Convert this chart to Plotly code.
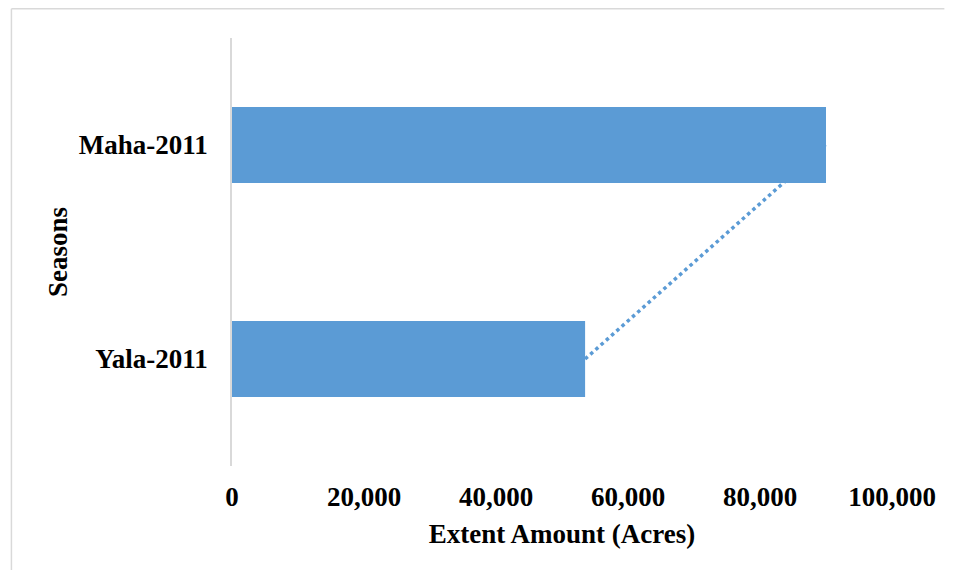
import plotly.graph_objects as go

seasons = ["Yala-2011", "Maha-2011"]
extent = [53500, 90000]
x_ticks = [0, 20000, 40000, 60000, 80000, 100000]
x_tick_labels = ["0", "20,000", "40,000", "60,000", "80,000", "100,000"]

BLUE = "#5b9bd5"
FONT = dict(family="Liberation Serif", size=27, color="#000000", weight="bold")

fig = go.Figure()

# linear trendline (drawn beneath bars)
fig.add_trace(go.Scatter(
    x=extent, y=seasons, mode="lines",
    line=dict(color=BLUE, width=3.5, dash="dot"),
    xaxis="x", yaxis="y", showlegend=False, hoverinfo="skip",
))

fig.add_trace(go.Bar(
    x=extent, y=seasons, orientation="h",
    marker=dict(color=BLUE, line=dict(width=0)),
    width=0.355, xaxis="x2", yaxis="y2", showlegend=False,
))

W, H = 940, 562
L, R, T, B = 224, 48, 30, 104
pw, ph = W - L - R, H - T - B

fig.update_layout(
    width=W, height=H,
    margin=dict(l=L, r=R, t=T, b=B),
    paper_bgcolor="white", plot_bgcolor="white",
    font=FONT,
    xaxis=dict(
        range=[0, 100000], tickvals=x_ticks, ticktext=x_tick_labels,
        showgrid=False, zeroline=False, showline=False,
        tickfont=FONT, ticklabelstandoff=12,
        title=dict(text="Extent Amount (Acres)", font=FONT, standoff=13),
    ),
    yaxis=dict(
        type="category", categoryorder="array", categoryarray=seasons,
        range=[-0.5, 1.5], showgrid=False, zeroline=False,
        showline=True, linecolor="#d9d9d9", linewidth=1.5,
        tickfont=FONT, ticklabelstandoff=17,
        title=dict(text="Seasons", font=FONT, standoff=3),
    ),
    xaxis2=dict(overlaying="x", matches="x", visible=False, range=[0, 100000]),
    yaxis2=dict(overlaying="y", matches="y", visible=False, type="category",
                categoryorder="array", categoryarray=seasons, range=[-0.5, 1.5]),
    shapes=[
        dict(type="line", xref="paper", yref="paper",
             x0=(0.75 - L) / pw, x1=(W + 5 - L) / pw,
             y0=(H - B - 0.75) / ph, y1=(H - B - 0.75) / ph,
             line=dict(color="#d9d9d9", width=1.5)),
        dict(type="line", xref="paper", yref="paper",
             x0=(0.75 - L) / pw, x1=(0.75 - L) / pw,
             y0=(H - B - 0.75) / ph, y1=(-B - 5) / ph,
             line=dict(color="#d9d9d9", width=1.5)),
    ],
)

fig.write_html("out.html")
